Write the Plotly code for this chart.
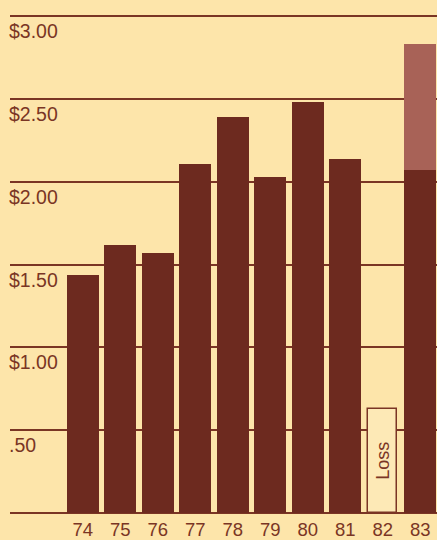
import plotly.graph_objects as go

# Earnings per share by year
years = [74, 75, 76, 77, 78, 79, 80, 81, 82, 83]
earnings = [1.44, 1.62, 1.57, 2.11, 2.39, 2.03, 2.48, 2.14, None, 2.07]
loss_year = [82]
loss_height = [0.63]
upper_year = [83]
upper_total = [2.83]

tick_values = [3.0, 2.5, 2.0, 1.5, 1.0, 0.5]
tick_labels = ["$3.00", "$2.50", "$2.00", "$1.50", "$1.00", ".50"]
year_labels = [str(y) for y in years]

BG = "#fde5aa"
DARK = "#6d2a1f"
LIGHT = "#a86257"
INK = "#7a3524"

fig = go.Figure()

fig.add_trace(go.Bar(
    x=years, y=earnings, width=0.85,
    marker=dict(color=DARK, line=dict(width=0)),
    showlegend=False,
))

# upper segment of the last bar, stacked on the dark part
fig.add_trace(go.Bar(
    x=upper_year,
    y=[t - earnings[years.index(x)] for x, t in zip(upper_year, upper_total)],
    base=[earnings[years.index(x)] for x in upper_year],
    width=0.85,
    marker=dict(color=LIGHT, line=dict(width=0)),
    showlegend=False,
))

# outlined bar for the loss year
fig.add_trace(go.Bar(
    x=loss_year, y=loss_height, width=0.78,
    marker=dict(color="#fde9b6", line=dict(color=INK, width=1.5)),
    showlegend=False,
))

annotations = []
for v, lab in zip(tick_values, tick_labels):
    annotations.append(dict(
        x=0, xref="paper", y=v, yref="y", text=lab,
        xanchor="left", yanchor="middle", xshift=-3, yshift=-15,
        showarrow=False, font=dict(family="Liberation Sans", size=19.5, color=INK),
    ))
for x, h in zip(loss_year, loss_height):
    annotations.append(dict(
        x=x, y=h / 2, xref="x", yref="y", text="Loss", textangle=-90,
        showarrow=False, font=dict(family="Liberation Sans", size=18, color=INK),
    ))

fig.update_layout(
    width=437, height=540,
    margin=dict(l=10, r=0, t=0, b=27.3),
    paper_bgcolor=BG, plot_bgcolor=BG,
    barmode="overlay", bargap=0,
    annotations=annotations,
    xaxis=dict(
        range=[72.0587, 83.445],
        tickmode="array", tickvals=years, ticktext=year_labels,
        showgrid=False, zeroline=False, showline=False, ticks="",
        ticklabelstandoff=3,
        tickfont=dict(family="Liberation Sans", size=18.5, color=INK),
    ),
    yaxis=dict(
        range=[0, 3.098],
        tickmode="array", tickvals=[0] + tick_values,
        showticklabels=False, ticks="",
        showgrid=True, gridcolor=INK, gridwidth=1.5,
        zeroline=True, zerolinecolor=INK, zerolinewidth=2,
    ),
)

fig.write_html("out.html")
